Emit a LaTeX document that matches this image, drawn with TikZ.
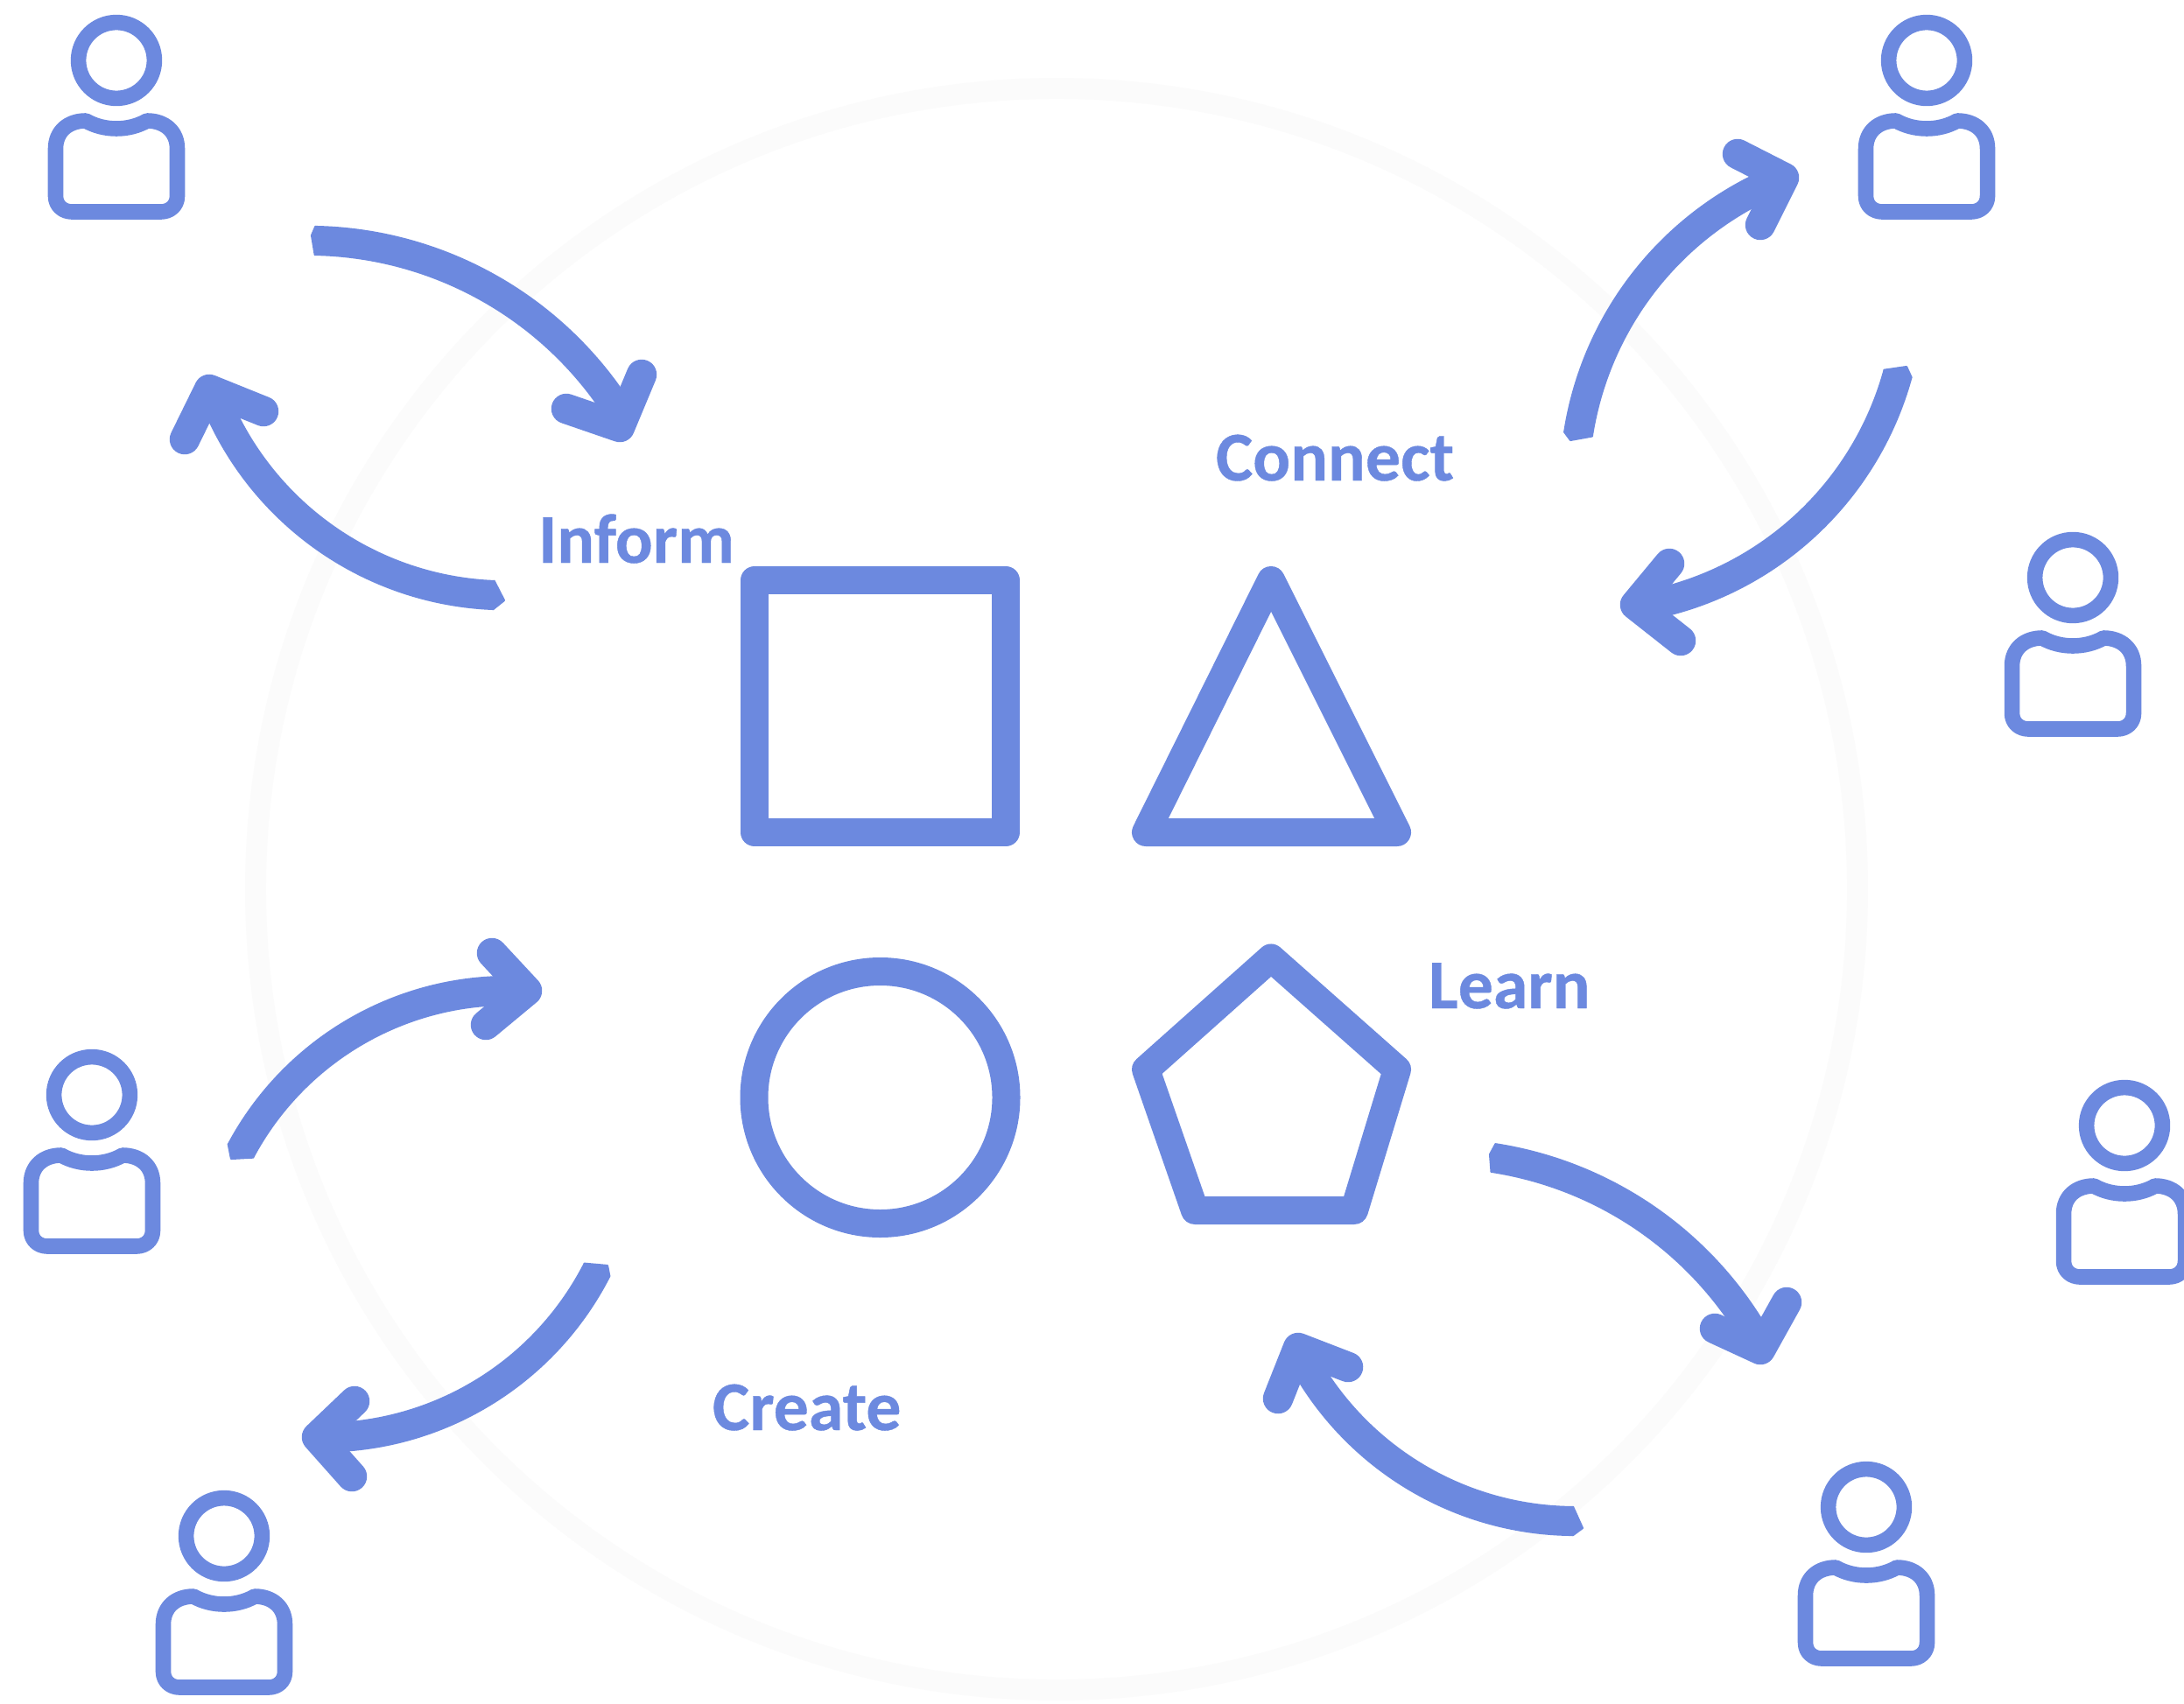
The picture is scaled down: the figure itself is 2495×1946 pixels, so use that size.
\documentclass[tikz,border=0pt]{standalone}
\usepackage{fontspec}
\usetikzlibrary{calc}
\setmainfont{Carlito}
\newfontfamily\labelfont[FakeBold=0.5]{Carlito Bold}
\definecolor{iconblue}{HTML}{6C89DF}
\definecolor{ringgrey}{HTML}{FBFBFB}
\tikzset{
  iconline/.style={draw=iconblue,line width=5pt,line join=round,line cap=round},
  shapeline/.style={draw=iconblue,line width=9.1pt,line join=round},
  ringline/.style={draw=ringgrey,line width=6.8pt},
  arcline/.style={draw=iconblue,line width=9.7pt,line cap=butt,line join=round},
  headline/.style={draw=iconblue,line width=9.8pt,line cap=round,line join=round},
  tailcut/.style={fill=iconblue,draw=iconblue,line width=0.6pt,line join=round},
  lab/.style={text=iconblue,font=\fontsize{22.7}{23}\selectfont\labelfont,anchor=base west,inner sep=0pt,outer sep=0pt},
}
\newcommand{\personicon}[2]{%
  \begin{scope}[shift={(#1,#2)}]
    \draw[iconline] (0,0) circle (43.4);
    \draw[iconline] (-35,69) .. controls (-14,81) and (14,81) .. (35,69)
      .. controls (55,69) and (69.5,81) .. (69.5,101) -- (69.5,155)
      .. controls (69.5,166) and (61,173) .. (51,173) -- (-51,173)
      .. controls (-61,173) and (-69.5,166) .. (-69.5,155) -- (-69.5,101)
      .. controls (-69.5,81) and (-55,69) .. (-35,69) -- cycle;
  \end{scope}}
% #1 tail, #2 half turning angle, #3 arc end, #4 tip, #5 #6 wings, #7 tail's oblique corner
\newcommand{\bendarrow}[7]{%
  \pgfmathsetmacro{\handle}{1/(3*cos(#2/2)*cos(#2/2))}%
  \coordinate (t) at #1; \coordinate (e) at #3; \coordinate (p) at #4;
  \coordinate (w1) at #5; \coordinate (w2) at #6; \coordinate (k) at #7;
  \coordinate (c1) at ($(t)!\handle!#2:(e)$);
  \coordinate (c2) at ($(e)!\handle!-#2:(t)$);
  \draw[arcline] (t) .. controls (c1) and (c2) .. (e) -- (p);
  \draw[headline] (w1) -- (p) -- (w2);
  \path[tailcut] ($(t)!4.6pt!90:(c1)$) -- (k) -- ($(t)!4.6pt!-90:(c1)$) -- cycle;}
\begin{document}
\begin{tikzpicture}[x=0.01cm,y=-0.01cm]
\useasboundingbox (0,0) rectangle (2495,1946);
\clip (0,0) rectangle (2495,1946);
\fill[white] (0,0) rectangle (2495,1946);
\draw[ringline] (1207,1016) circle (915);

\personicon{133}{69}
\personicon{2201}{69}
\personicon{2368}{660}
\personicon{2427}{1286}
\personicon{2132}{1722}
\personicon{256}{1755}
\personicon{105}{1251}

\draw[shapeline] (862,663) rectangle (1149,951);
\draw[shapeline] (1452,663) -- (1596,951) -- (1309,951) -- cycle;
\draw[shapeline] (1005.5,1254) circle (144);
\draw[shapeline] (1452,1094.5) -- (1596,1222) -- (1547,1383) -- (1365,1383) -- (1309,1222) -- cycle;

\bendarrow{(360,275)}{28.2}{(707,470)}{(708,488)}{(647,467)}{(733,428)}{(356,269)}
\bendarrow{(564,680)}{31}{(255,477)}{(239,445)}{(211,502)}{(301,470)}{(576,686)}
\bendarrow{(1803,496)}{28.8}{(2025,208)}{(2038,203)}{(1985,176)}{(2011,257)}{(1794,503)}
\bendarrow{(2168,427)}{30.2}{(1903,687)}{(1868,691)}{(1907,644)}{(1920,732)}{(2178,419)}
\bendarrow{(1706,1323)}{25.2}{(2003,1523)}{(2011,1542)}{(1959,1518)}{(2041,1488)}{(1702,1319)}
\bendarrow{(1797,1738)}{29.2}{(1496,1567)}{(1483,1540)}{(1460,1598)}{(1540,1562)}{(1808,1746)}
\bendarrow{(275,1315)}{31.2}{(583,1132)}{(602,1132)}{(562,1089)}{(555,1171)}{(264,1324)}
\bendarrow{(682,1451)}{30}{(387,1642)}{(362,1642)}{(405,1601)}{(402,1687)}{(694,1446)}

\node[lab] (inform) at (615,643) {Inform};
\node[lab] (connect) at (1389,549) {Connect};
\node[lab] (learn) at (1632,1152) {Learn};
\node[lab] (create) at (814,1634) {Create};
\end{tikzpicture}
\end{document}
